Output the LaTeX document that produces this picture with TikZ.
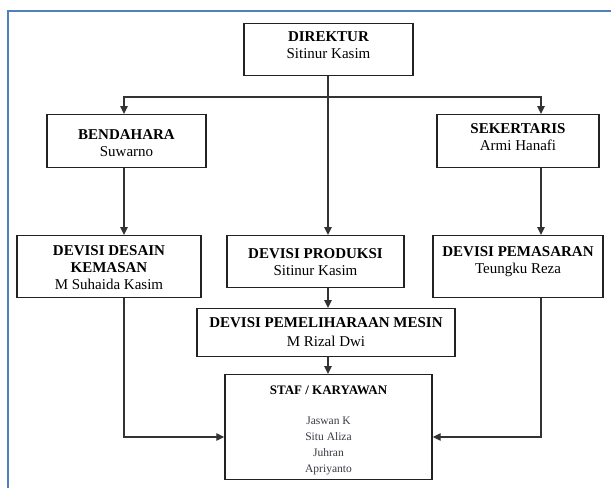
\documentclass[tikz,border=0pt]{standalone}
\usepackage{fontspec}
\setmainfont{Liberation Serif}
\usetikzlibrary{arrows.meta}
\definecolor{framecol}{HTML}{4F81BD}
\definecolor{boxline}{HTML}{222222}
\definecolor{linecol}{HTML}{333333}
\definecolor{namecol}{HTML}{3A3A44}
\begin{document}
\begin{tikzpicture}[x=1pt,y=-1pt,
  orgbox/.style={draw=boxline, line width=1.4pt, fill=white, inner sep=0pt, align=center,
    anchor=north, font=\fontsize{15}{17}\selectfont},
  conn/.style={draw=linecol, line width=1.3pt, -{Triangle[length=8pt,width=7.5pt]}},
  plain/.style={draw=linecol, line width=1.3pt}]
\useasboundingbox (0,0) rectangle (611,488);
\draw[framecol, line width=2pt] (8,488) -- (8,10.5) -- (611,10.5);

\node[orgbox, minimum width=169pt, text height=35pt, text depth=17pt] (dir) at (328.5,23)
  {\textbf{DIREKTUR}\\Sitinur Kasim};
\node[orgbox, minimum width=159pt, text height=42pt, text depth=11pt] (bend) at (126.5,114)
  {\textbf{BENDAHARA}\\Suwarno};
\node[orgbox, minimum width=162pt, text height=36pt, text depth=17pt] (sek) at (518,114)
  {\textbf{SEKERTARIS}\\Armi Hanafi};
\node[orgbox, minimum width=184pt, text height=54pt, text depth=8pt] (des) at (109,235)
  {\textbf{DEVISI DESAIN}\\\textbf{KEMASAN}\\M Suhaida Kasim};
\node[orgbox, minimum width=177pt, text height=40pt, text depth=12pt] (prod) at (315.5,235)
  {\textbf{DEVISI PRODUKSI}\\Sitinur Kasim};
\node[orgbox, minimum width=170pt, text height=38pt, text depth=24pt] (pem) at (518,235)
  {\textbf{DEVISI PEMASARAN}\\Teungku Reza};
\node[orgbox, minimum width=258pt, text height=38pt, text depth=10pt] (mes) at (326,308)
  {\textbf{DEVISI PEMELIHARAAN MESIN}\\[2pt]M Rizal Dwi};
\node[orgbox, minimum width=207pt, text height=98pt, text depth=7pt,
  font=\fontsize{11.5}{16}\selectfont, text=namecol] (staf) at (328.5,374)
  {{\fontsize{13}{15}\selectfont\bfseries\color{black}STAF / KARYAWAN}\\[14pt]
   Jaswan K\\Situ Aliza\\Juhran\\Apriyanto};

\coordinate (junc) at (328,97);
\coordinate (cl) at (124,0);
\coordinate (cr) at (541,0);
\coordinate (cm) at (328,0);
\coordinate (row) at (0,437);

\draw[conn] (dir.south -| cm) -- (cm |- prod.north);
\draw[conn] (junc) -| (cl |- bend.north);
\draw[conn] (junc) -| (cr |- sek.north);
\draw[conn] (cl |- bend.south) -- (cl |- des.north);
\draw[conn] (cr |- sek.south) -- (cr |- pem.north);
\draw[conn] (cm |- prod.south) -- (cm |- mes.north);
\draw[conn] (cm |- mes.south) -- (cm |- staf.north);
\draw[conn] (cl |- des.south) |- (staf.west |- row);
\draw[conn] (cr |- pem.south) |- (staf.east |- row);
\end{tikzpicture}
\end{document}
